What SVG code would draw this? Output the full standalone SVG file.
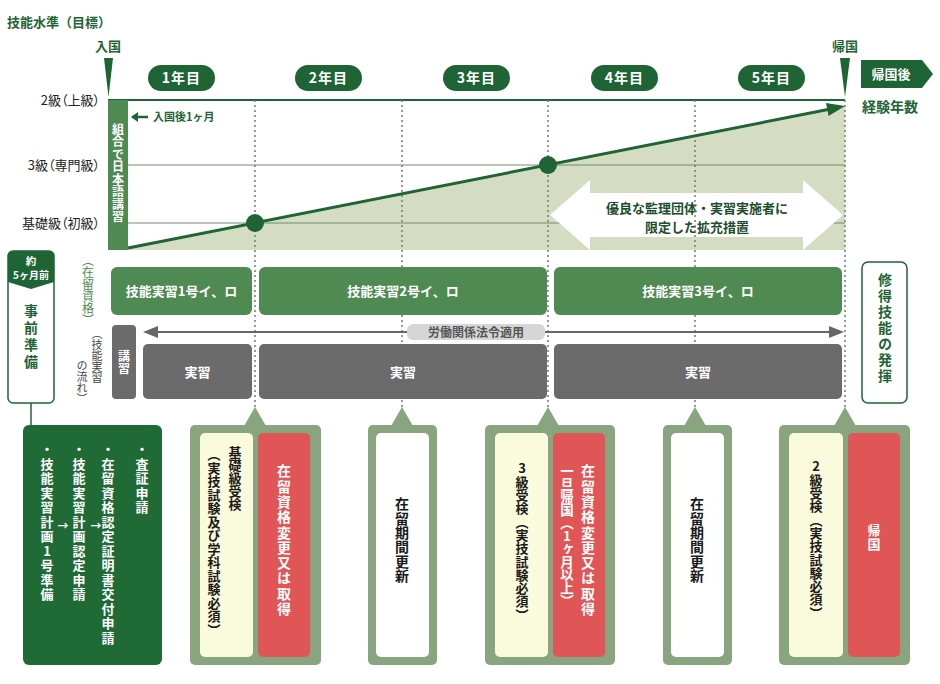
<svg xmlns="http://www.w3.org/2000/svg" width="940" height="684" viewBox="0 0 940 684">
<defs>
<style>
text{font-family:"Noto Sans CJK JP","Noto Sans",sans-serif}
.v{writing-mode:vertical-rl;text-orientation:upright}
.b{font-weight:700}
.dg{fill:#1e6434}
.w{fill:#fff}
.k{fill:#1a1a1a}
.yr{font-size:14px;font-weight:700;fill:#fff;text-anchor:middle;letter-spacing:1px}
.pill{fill:#1e6434}
.grid{stroke:#6e8f6c;stroke-width:1.2}
.dot{stroke:#777;stroke-width:1.5;stroke-dasharray:2 3}
.gbox{fill:#4f8a52}
.gr{fill:#6b6b6b}
.sage{fill:#88a580}
.yel{fill:#fafadc}
.red{fill:#e05555}
.wh{fill:#fff}
.lvl{font-size:13px;fill:#222;text-anchor:end;font-feature-settings:"palt" 1}
</style>
</defs>

<g id="axis-labels">
<text x="7" y="27" class="b dg" font-size="13">技能水準（目標）</text>
<text x="108" y="51" class="b dg" font-size="13" text-anchor="middle">入国</text>
<polygon points="104,58 113,58 108.5,97" class="dg"/>
<text x="845" y="51" class="b dg" font-size="13" text-anchor="middle">帰国</text>
<polygon points="840,58 850,58 845,97" class="dg"/>
<text x="100" y="105" class="lvl">2級（上級）</text>
<text x="100" y="170" class="lvl">3級（専門級）</text>
<text x="100" y="228" class="lvl">基礎級（初級）</text>
</g>

<g id="years">
<rect x="148" y="65" width="67" height="26" rx="13" class="pill"/>
<text x="181.5" y="83" class="yr">1年目</text>
<rect x="295" y="65" width="67" height="26" rx="13" class="pill"/>
<text x="328.5" y="83" class="yr">2年目</text>
<rect x="443" y="65" width="67" height="26" rx="13" class="pill"/>
<text x="476.5" y="83" class="yr">3年目</text>
<rect x="591" y="65" width="67" height="26" rx="13" class="pill"/>
<text x="624.5" y="83" class="yr">4年目</text>
<rect x="738" y="65" width="67" height="26" rx="13" class="pill"/>
<text x="771.5" y="83" class="yr">5年目</text>
</g>

<g id="after-return">
<polygon points="861,60 922,60 933,74 922,88 861,88" class="dg"/>
<text x="891" y="79" class="b w" font-size="13" text-anchor="middle">帰国後</text>
<text x="862" y="112" class="b dg" font-size="14">経験年数</text>
</g>

<g id="chart">
<polygon points="128,248 845,106 845,250 128,250" fill="#d4ddc1"/>
<line x1="128" y1="165" x2="845" y2="165" class="grid"/>
<line x1="128" y1="223" x2="845" y2="223" class="grid"/>
<line x1="108" y1="100" x2="845" y2="100" stroke="#1e6434" stroke-width="2"/>
<polygon points="550,215 590,180 590,193 803,193 803,180 843,215 803,250 803,237 590,237 590,250" fill="#fff"/>
<text x="697" y="213" class="b" fill="#1e4d2b" font-size="13" text-anchor="middle">優良な監理団体・実習実施者に</text>
<text x="697" y="232" class="b" fill="#1e4d2b" font-size="13" text-anchor="middle">限定した拡充措置</text>
</g>

<g id="connectors">
<line x1="255" y1="100" x2="255" y2="410" class="dot"/>
<line x1="402" y1="100" x2="402" y2="410" class="dot"/>
<line x1="548" y1="100" x2="548" y2="410" class="dot"/>
<line x1="695" y1="100" x2="695" y2="410" class="dot"/>
<line x1="845" y1="100" x2="845" y2="410" class="dot"/>
<line x1="128" y1="248" x2="828" y2="109.5" stroke="#1e6434" stroke-width="3"/>
<polygon points="845,106 828.6,115.9 826,103.1" class="dg"/>
<line x1="31" y1="403" x2="31" y2="425" stroke="#1e6434" stroke-width="1.5"/>
<line x1="156" y1="332" x2="832" y2="332" stroke="#666" stroke-width="2"/>
<polygon points="143,332 158,326 158,338" fill="#666"/>
<polygon points="844,332 829,326 829,338" fill="#666"/>
</g>

<g id="japanese-course">
<rect x="108" y="100" width="20" height="150" class="gbox"/>
<text x="118" y="123" class="v b w" font-size="12" letter-spacing="0.5">組合で日本語講習</text>
<line x1="132" y1="117" x2="148" y2="117" stroke="#1e6434" stroke-width="2.5"/>
<polygon points="131,117 138,112 138,122" class="dg"/>
<text x="153" y="121" class="b dg" font-size="11">入国後1ヶ月</text>
</g>

<g id="milestones">
<circle cx="255" cy="223" r="9" class="dg"/>
<circle cx="548" cy="165" r="9" class="dg"/>
</g>

<g id="status-row">
<text x="88" y="254" class="v" font-size="12" fill="#4f8a52">（在留資格）</text>
<rect x="111" y="267" width="141" height="48" rx="6" class="gbox"/>
<text x="181.5" y="296" class="b w" font-size="13" text-anchor="middle">技能実習1号イ、ロ</text>
<rect x="259" y="267" width="288" height="48" rx="6" class="gbox"/>
<text x="403" y="296" class="b w" font-size="13" text-anchor="middle">技能実習2号イ、ロ</text>
<rect x="554" y="267" width="288" height="48" rx="6" class="gbox"/>
<text x="698" y="296" class="b w" font-size="13" text-anchor="middle">技能実習3号イ、ロ</text>
</g>

<g id="law-label">
<rect x="407" y="324" width="138" height="16" rx="6" fill="#d6d6d6"/>
<text x="476" y="337" class="b" fill="#555" font-size="12" text-anchor="middle">労働関係法令適用</text>
</g>

<g id="flow-row">
<text x="97" y="328" class="v" font-size="11" fill="#444">（技能実習</text>
<text x="82" y="360" class="v" font-size="11" fill="#444">の流れ）</text>
<rect x="112" y="325" width="24" height="74" rx="4" class="gr"/>
<text x="124" y="362" class="v b w" font-size="12" text-anchor="middle">講習</text>
<rect x="143" y="344" width="109" height="55" rx="5" class="gr"/>
<text x="197.5" y="377" class="b w" font-size="13" text-anchor="middle">実習</text>
<rect x="259" y="344" width="288" height="55" rx="5" class="gr"/>
<text x="403" y="377" class="b w" font-size="13" text-anchor="middle">実習</text>
<rect x="554" y="344" width="288" height="55" rx="5" class="gr"/>
<text x="698" y="377" class="b w" font-size="13" text-anchor="middle">実習</text>
</g>

<g id="preparation">
<rect x="8" y="251" width="46" height="152" rx="5" fill="#fff" stroke="#1e6434" stroke-width="1.5"/>
<path d="M8,256 Q8,251 13,251 H49 Q54,251 54,256 V282 L31,289 L8,282 Z" class="dg"/>
<text x="31" y="265" class="b w" font-size="10.5" text-anchor="middle">約</text>
<text x="31" y="279" class="b w" font-size="10" text-anchor="middle">5ヶ月前</text>
<text x="31" y="304" class="v b dg" font-size="14" letter-spacing="3">事前準備</text>
</g>

<g id="skill-use">
<rect x="862" y="262" width="45" height="141" rx="6" fill="#fff" stroke="#1e6434" stroke-width="1.5"/>
<text x="885" y="273" class="v b dg" font-size="14" letter-spacing="2">修得技能の発揮</text>
</g>

<g id="pre-steps">
<rect x="23" y="425" width="139" height="240" rx="6" fill="#1f6a35"/>
<text x="142" y="443" class="v b w" font-size="13" letter-spacing="1.5">・査証申請</text>
<text x="108" y="443" class="v b w" font-size="13" letter-spacing="1.5">・在留資格認定証明書交付申請</text>
<text x="79" y="443" class="v b w" font-size="13" letter-spacing="1.5">・技能実習計画認定申請</text>
<text x="47" y="443" class="v b w" font-size="13" letter-spacing="1.5">・技能実習計画1号準備</text>
<text x="63" y="530" class="b w" font-size="11" text-anchor="middle">→</text>
<text x="96" y="530" class="b w" font-size="11" text-anchor="middle">→</text>
</g>

<g id="callout-1">
<polygon points="244,426 255,407 266,426" class="sage"/>
<rect x="190" y="425" width="131" height="240" rx="5" class="sage"/>
<rect x="200" y="433" width="53" height="224" rx="5" class="yel"/>
<rect x="258" y="433" width="52" height="224" rx="5" class="red"/>
<text x="235" y="446" class="v b k" font-size="13">基礎級受検</text>
<text x="214" y="448" class="v b k" font-size="13" letter-spacing="0.5">（実技試験及び学科試験必須）</text>
<text x="284" y="464" class="v b w" font-size="14" letter-spacing="1.3">在留資格変更又は取得</text>
</g>

<g id="callout-2">
<polygon points="391,426 402,407 413,426" class="sage"/>
<rect x="368" y="425" width="69" height="240" rx="5" class="sage"/>
<rect x="376" y="433" width="53" height="224" rx="5" class="wh"/>
<text x="402" y="497" class="v b k" font-size="14" letter-spacing="0.3">在留期間更新</text>
</g>

<g id="callout-3">
<polygon points="537,426 548,407 559,426" class="sage"/>
<rect x="485" y="425" width="130" height="240" rx="5" class="sage"/>
<rect x="495" y="433" width="53" height="224" rx="5" class="yel"/>
<rect x="553" y="433" width="52" height="224" rx="5" class="red"/>
<text x="522" y="462" class="v b k" font-size="13" letter-spacing="0.3">3級受検（実技試験必須）</text>
<text x="588" y="464" class="v b w" font-size="14" letter-spacing="1.3">在留資格変更又は取得</text>
<text x="567" y="464" class="v b w" font-size="13.5" letter-spacing="-0.5">一旦帰国（1ヶ月以上）</text>
</g>

<g id="callout-4">
<polygon points="684,426 695,407 706,426" class="sage"/>
<rect x="663" y="425" width="69" height="240" rx="5" class="sage"/>
<rect x="671" y="433" width="53" height="224" rx="5" class="wh"/>
<text x="697" y="497" class="v b k" font-size="14" letter-spacing="0.3">在留期間更新</text>
</g>

<g id="callout-5">
<polygon points="834,426 845,407 856,426" class="sage"/>
<rect x="779" y="425" width="131" height="240" rx="5" class="sage"/>
<rect x="789" y="433" width="54" height="224" rx="5" class="yel"/>
<rect x="848" y="433" width="52" height="224" rx="5" class="red"/>
<text x="816" y="460" class="v b k" font-size="13" letter-spacing="0.3">2級受検（実技試験必須）</text>
<text x="874" y="524" class="v b w" font-size="13" letter-spacing="1">帰国</text>
</g>
</svg>
